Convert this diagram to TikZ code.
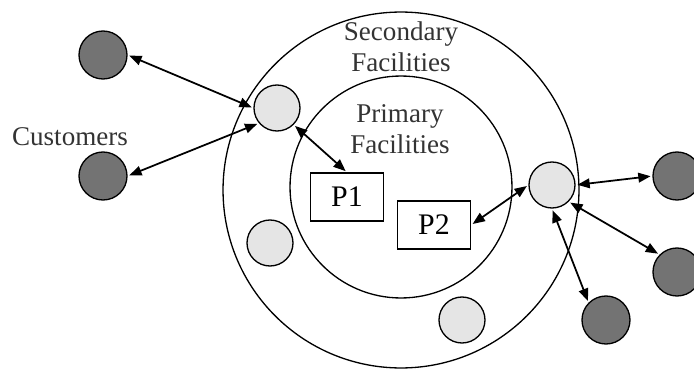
\documentclass[tikz,border=0pt]{standalone}
\usepackage{fontspec}
\setmainfont{Liberation Serif}
\usetikzlibrary{arrows.meta}

\begin{document}
\begin{tikzpicture}[
  x=0.02cm, y=-0.02cm,   % one unit is one pixel of the sketch, y grows downwards
  ring/.style      = {draw, line width=0.75pt},
  customer/.style  = {circle, draw, line width=0.75pt, fill=black!55,
                      minimum size=0.96cm, inner sep=0pt},
  secondary/.style = {circle, draw, line width=0.75pt, fill=black!10,
                      minimum size=0.92cm, inner sep=0pt},
  primary/.style   = {draw, line width=0.75pt, minimum width=1.46cm,
                      minimum height=0.96cm, inner sep=0pt,
                      font=\fontsize{17}{20}\selectfont},
  link/.style      = {line width=1pt,
                      {Triangle[length=7pt,width=5.5pt]}-{Triangle[length=7pt,width=5.5pt]},
                      shorten <=1pt, shorten >=1pt},
  lbl/.style       = {text=black!80, align=center,
                      font=\fontsize{15.4}{17.6}\selectfont},
]
  \useasboundingbox (0,0) rectangle (694,372);

  % the two facility zones
  \draw[ring] (401,190) circle[radius=3.56cm];
  \draw[ring] (401,187) circle[radius=2.22cm];

  \node[lbl] (sec_lbl) at (401,47) {Secondary\\Facilities};
  \node[lbl] (pri_lbl) at (400,129) {Primary\\Facilities};
  \node[lbl] (cust_lbl) at (70,137) {Customers};

  % primary facilities
  \node[primary] (p1) at (347,197) {P1};
  \node[primary] (p2) at (434,225) {P2};

  % secondary facilities
  \node[secondary] (s1) at (277,108) {};
  \node[secondary] (s2) at (552,185) {};
  \node[secondary] (s3) at (270,243) {};
  \node[secondary] (s4) at (462,320) {};

  % customers
  \node[customer] (c1) at (103,55) {};
  \node[customer] (c2) at (103,176) {};
  \node[customer] (c3) at (677,176) {};
  \node[customer] (c4) at (677,272) {};
  \node[customer] (c5) at (606,320) {};

  \draw[link] (c1.east) -- (s1.west);
  \draw[link] (c2.east) -- (s1.220);
  \draw[link] (s1.south east) -- (p1.north);
  \draw[link] (s2.west) -- (p2.east);
  \draw[link] (s2.east) -- (c3.west);
  \draw[link] (s2.south east) -- (c4.north west);
  \draw[link] (s2.south) -- (c5.north west);
\end{tikzpicture}
\end{document}
